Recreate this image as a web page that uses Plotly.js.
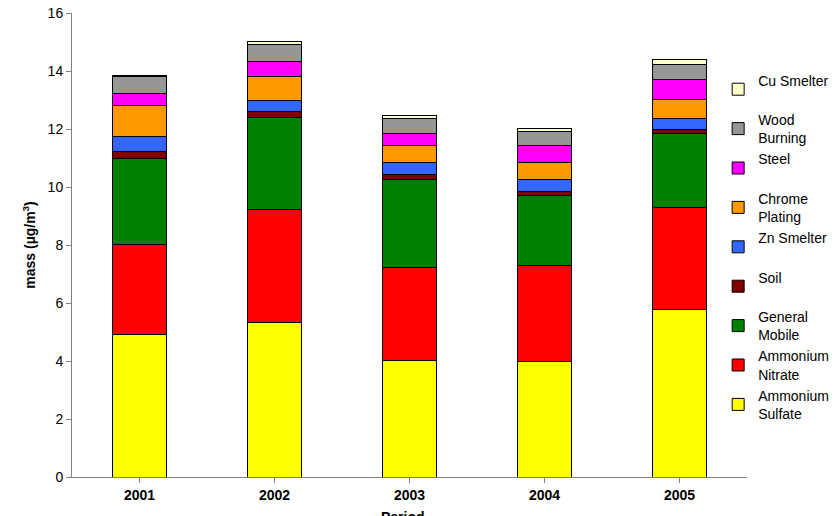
<!DOCTYPE html>
<html><head><script src="https://cdn.plot.ly/plotly-3.0.1.min.js"></script>
<style>body{margin:0}</style></head><body><div id="c" style="width:837px;height:516px"></div>
<script>
const years = ['2001','2002','2003','2004','2005'];
const ammoniumSulfate = [4.90, 5.34, 4.03, 3.97, 5.76];
const ammoniumNitrate = [3.13, 3.90, 3.21, 3.31, 3.55];
const generalMobile   = [2.97, 3.16, 3.03, 2.42, 2.54];
const soil            = [0.22, 0.20, 0.15, 0.16, 0.14];
const znSmelter       = [0.53, 0.40, 0.41, 0.41, 0.38];
const chromePlating   = [1.06, 0.82, 0.59, 0.57, 0.66];
const steel           = [0.40, 0.52, 0.43, 0.60, 0.69];
const woodBurning     = [0.59, 0.58, 0.52, 0.47, 0.52];
const cuSmelter       = [0.05, 0.10, 0.10, 0.10, 0.14];
const series = [
 ['Ammonium<br>Sulfate', ammoniumSulfate, '#FFFF00'],
 ['Ammonium<br>Nitrate', ammoniumNitrate, '#FF0000'],
 ['General<br>Mobile', generalMobile, '#008000'],
 ['Soil<br> ', soil, '#800000'],
 ['Zn Smelter<br> ', znSmelter, '#3366FF'],
 ['Chrome<br>Plating', chromePlating, '#FF9900'],
 ['Steel<br> ', steel, '#FF00FF'],
 ['Wood<br>Burning', woodBurning, '#969696'],
 ['Cu Smelter<br> ', cuSmelter, '#FFFFCC']
];
const data = series.map(s => ({type:'bar', name:s[0], x:years, y:s[1],
  marker:{color:s[2], line:{color:'#000', width:1}}}));
Plotly.newPlot('c', data, {
  width:837, height:516, barmode:'stack', bargap:0.6,
  margin:{l:72, r:90, t:13, b:39, autoexpand:false},
  font:{family:'Arial, Liberation Sans', size:14, color:'#000'},
  paper_bgcolor:'#fff', plot_bgcolor:'#fff',
  xaxis:{showline:true, linecolor:'#808080', ticks:'outside', tickcolor:'#808080',
    tickfont:{size:14, family:'Arial, Liberation Sans', weight:'bold'}},
  yaxis:{range:[0,16], dtick:2, showline:true, linecolor:'#808080', ticks:'outside', tickcolor:'#808080',
    showgrid:false, zeroline:false, tickfont:{size:14},
    title:{text:'<b>mass (µg/m<sup>3</sup>)</b>', font:{size:14}, standoff:8}},
  annotations:[{text:'<b>Period</b>', xref:'paper', yref:'paper', x:0.49, y:-0.086, yanchor:'middle', showarrow:false, font:{size:14}}],
  legend:{xref:'container', x:0.858, xanchor:'left', yref:'container', y:0.875, yanchor:'top', traceorder:'reversed',
    font:{size:14}, bgcolor:'rgba(0,0,0,0)', itemwidth:30, tracegroupgap:0, maxheight:1},
  showlegend:true
}, {displayModeBar:false});
</script></body></html>
